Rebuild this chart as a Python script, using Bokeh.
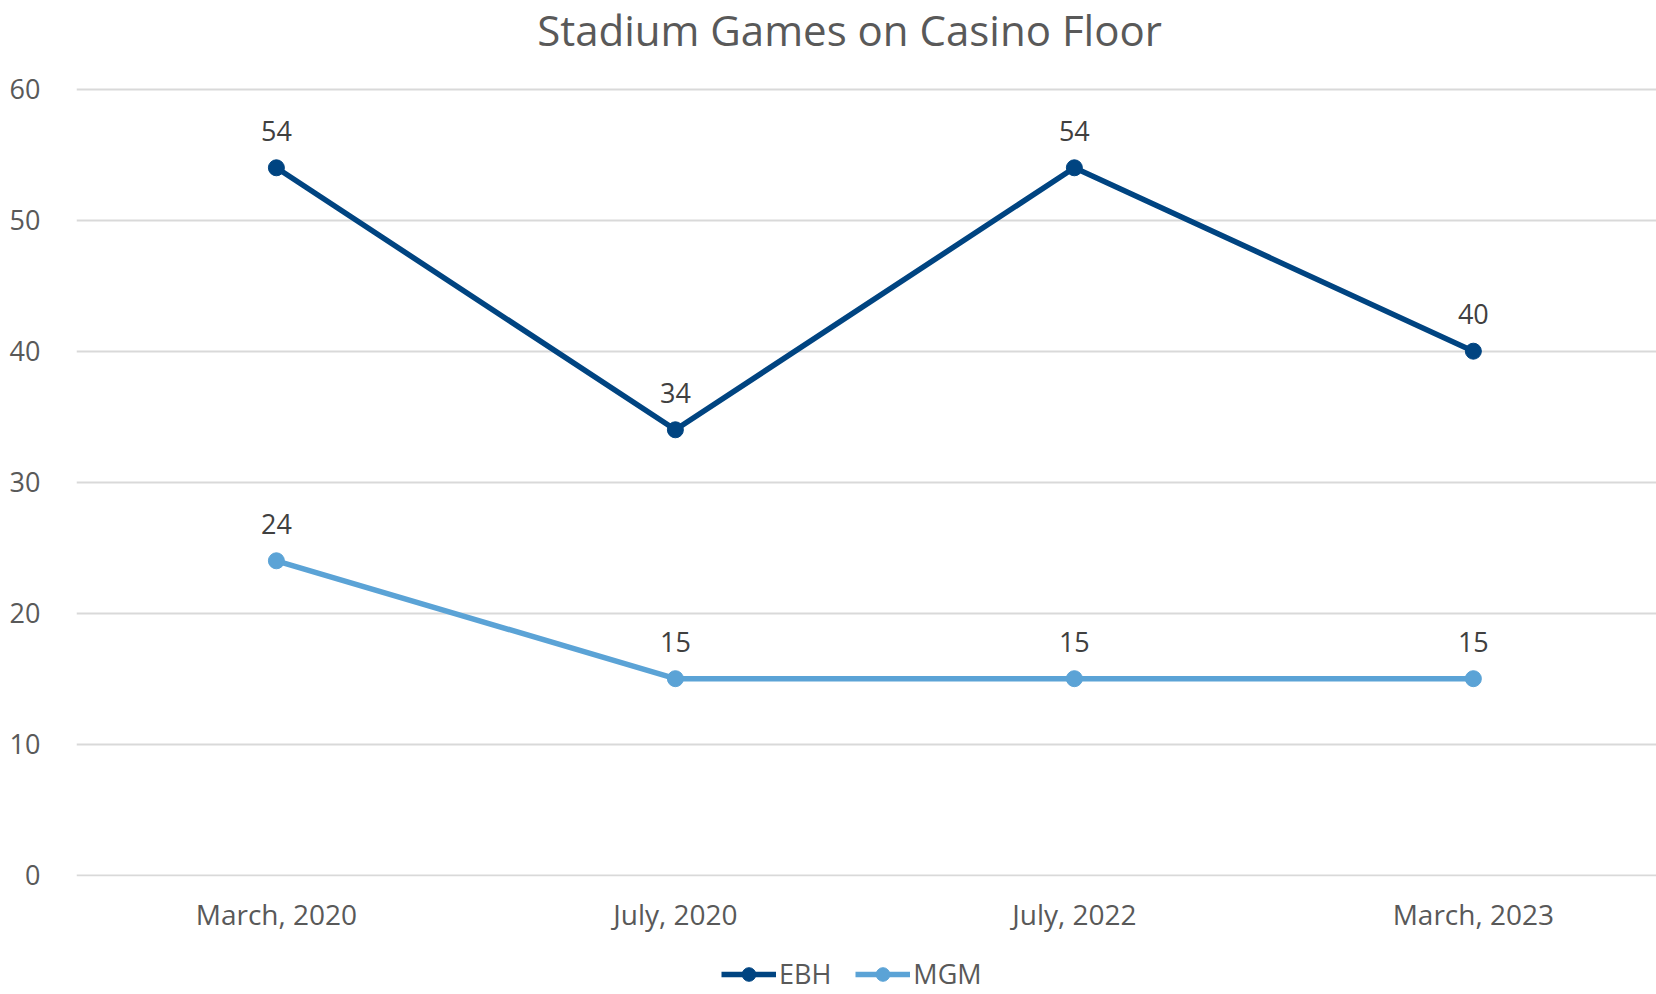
from bokeh.plotting import figure
from bokeh.layouts import column
from bokeh.models import (ColumnDataSource, FixedTicker, LabelSet, Legend, LegendItem, Label)
from bokeh.core.properties import value
from bokeh.embed import file_html
from bokeh.resources import INLINE

categories = ["March, 2020", "July, 2020", "July, 2022", "March, 2023"]
ebh = [54, 34, 54, 40]
mgm = [24, 15, 15, 15]
y_ticks = [0, 10, 20, 30, 40, 50, 60]
series_names = ["EBH", "MGM"]
title_text = "Stadium Games on Casino Floor"

FONT = "Open Sans"
EBH_COLOR = "#004481"
MGM_COLOR = "#5BA3D6"
TXT = "#595959"

xs = list(range(len(categories)))

W = 1656
BL = 76
FH = 876            # frame height (frame starts at the top of the figure)
H = 954
PX_PER_UNIT = 13.1
Y0 = -0.1
Y1 = Y0 + FH / PX_PER_UNIT

p = figure(width=W, height=H, output_backend="svg", toolbar_location=None,
           x_range=(-0.501, 3.459), y_range=(Y0, Y1),
           min_border_left=BL, min_border_right=0, min_border_top=0, min_border_bottom=H - FH,
           outline_line_color=None)

src_e = ColumnDataSource(dict(x=xs, y=ebh, lab=[str(v) for v in ebh]))
src_m = ColumnDataSource(dict(x=xs, y=mgm, lab=[str(v) for v in mgm]))

p.line("x", "y", source=src_e, line_color=EBH_COLOR, line_width=5.5)
p.scatter("x", "y", source=src_e, size=16, fill_color=EBH_COLOR, line_color=EBH_COLOR)
p.line("x", "y", source=src_m, line_color=MGM_COLOR, line_width=5.5)
p.scatter("x", "y", source=src_m, size=16, fill_color=MGM_COLOR, line_color=MGM_COLOR)

for src in (src_e, src_m):
    p.add_layout(LabelSet(x="x", y="y", text="lab", source=src, y_offset=37,
                          text_align="center", text_baseline="middle",
                          text_font=value(FONT), text_font_size=value("27px"),
                          text_color="#404040"))

p.xaxis.ticker = FixedTicker(ticks=xs)
p.xaxis.major_label_overrides = {i: c for i, c in enumerate(categories)}
p.yaxis.ticker = FixedTicker(ticks=y_ticks)
for ax in (p.xaxis, p.yaxis):
    ax.axis_line_color = None
    ax.major_tick_line_color = None
    ax.minor_tick_line_color = None
    ax.major_tick_out = 0
    ax.major_tick_in = 0
    ax.minor_tick_out = 0
    ax.major_label_text_font = FONT
    ax.major_label_text_color = TXT
p.xaxis.major_label_text_font_size = "28px"
p.yaxis.major_label_text_font_size = "27px"
p.xaxis.major_label_standoff = 18
p.yaxis.major_label_standoff = 36

p.xgrid.grid_line_color = None
p.ygrid.grid_line_color = "#D9D9D9"
p.ygrid.grid_line_width = 2

# chart title (inside the frame area, in screen units from the frame's bottom-left)
p.add_layout(Label(x=849 - BL, y=FH - 29, x_units="screen", y_units="screen",
                   text=title_text, text_align="center", text_baseline="middle",
                   text_font=FONT, text_font_size="42px", text_color=TXT))

# legend strip below the chart (its frame is aligned with the chart's frame)
LH = 40
lg = figure(width=W, height=LH, output_backend="svg", toolbar_location=None,
            x_range=(0, 1), y_range=(0, 1), min_border=0, outline_line_color=None)
lg.xaxis.visible = False
lg.yaxis.visible = False
lg.grid.visible = False
# renderers placed outside the visible range: only their legend swatches show
off_src = ColumnDataSource(dict(x=[-5, -4], y=[-5, -4]))
rl1 = lg.line("x", "y", source=off_src, line_color=EBH_COLOR, line_width=5.5)
rs1 = lg.scatter("x", "y", source=off_src, size=16, fill_color=EBH_COLOR, line_color=EBH_COLOR)
rl2 = lg.line("x", "y", source=off_src, line_color=MGM_COLOR, line_width=5.5)
rs2 = lg.scatter("x", "y", source=off_src, size=16, fill_color=MGM_COLOR, line_color=MGM_COLOR)
legend = Legend(items=[LegendItem(label=series_names[0], renderers=[rl1, rs1]),
                       LegendItem(label=series_names[1], renderers=[rl2, rs2])],
                orientation="horizontal", location=(645, 2),
                label_text_font=FONT, label_text_font_size="27px", label_text_color=TXT,
                glyph_width=55, glyph_height=34, label_standoff=3, spacing=24,
                label_height=34,
                border_line_color=None, background_fill_alpha=0, padding=0, margin=0)
lg.add_layout(legend, "center")

layout = column(p, lg, spacing=0)
open("out.html", "w").write(file_html(layout, INLINE))
